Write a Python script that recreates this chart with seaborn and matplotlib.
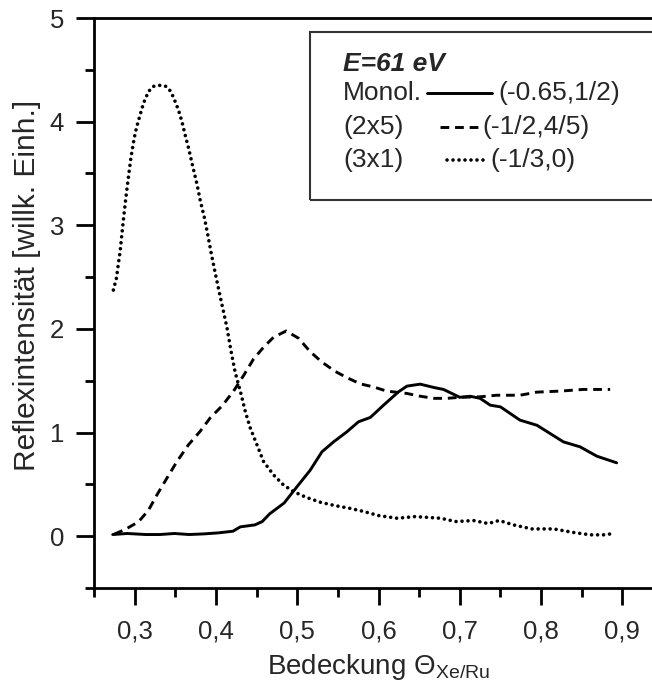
import numpy as np
import pandas as pd
import seaborn as sns
import matplotlib.pyplot as plt
from matplotlib.lines import Line2D
from matplotlib.patches import Rectangle
from matplotlib.ticker import MultipleLocator, FuncFormatter

# Monolage (-0.65,1/2)
mono_x = [0.273, 0.291, 0.3135, 0.331, 0.349, 0.367, 0.385, 0.403, 0.421, 0.430,
          0.448, 0.457, 0.466, 0.4839, 0.4996, 0.516, 0.5304, 0.5447, 0.5611, 0.5754,
          0.590, 0.6062, 0.6246, 0.635, 0.6513, 0.668, 0.68, 0.70, 0.713, 0.725,
          0.7375, 0.75, 0.774, 0.795, 0.8275, 0.848, 0.8686, 0.893]
mono_y = [0.016, 0.026, 0.016, 0.016, 0.026, 0.016, 0.022, 0.032, 0.048, 0.09,
          0.109, 0.141, 0.215, 0.32, 0.476, 0.637, 0.814, 0.91, 1.007, 1.104,
          1.146, 1.264, 1.393, 1.448, 1.467, 1.435, 1.416, 1.34, 1.35, 1.33,
          1.264, 1.248, 1.12, 1.07, 0.91, 0.862, 0.772, 0.708]

# (2x5) (-1/2,4/5)
p25_x = [0.275, 0.2884, 0.3048, 0.317, 0.3274, 0.3397, 0.352, 0.3663, 0.3807, 0.393,
         0.4074, 0.4217, 0.434, 0.4463, 0.4585, 0.4709, 0.4865, 0.5016, 0.516, 0.5304,
         0.5467, 0.5611, 0.5775, 0.5939, 0.610, 0.635, 0.651, 0.668, 0.684, 0.70,
         0.725, 0.7456, 0.774, 0.795, 0.8235, 0.852, 0.885]
p25_y = [0.02, 0.065, 0.139, 0.25, 0.398, 0.56, 0.72, 0.883, 1.013, 1.142,
         1.256, 1.40, 1.55, 1.71, 1.822, 1.92, 1.98, 1.91, 1.78, 1.68,
         1.59, 1.53, 1.47, 1.44, 1.40, 1.377, 1.351, 1.33, 1.33, 1.34,
         1.345, 1.36, 1.36, 1.39, 1.40, 1.416, 1.416]

# (3x1) (-1/3,0)
p31_x = [0.2738, 0.2776, 0.2795, 0.2823, 0.2844, 0.2864, 0.2888, 0.2913, 0.2934, 0.2954,
         0.2979, 0.3007, 0.3036, 0.3069, 0.311, 0.317, 0.323, 0.3306, 0.3389, 0.3446,
         0.349, 0.354, 0.3582, 0.3622, 0.3668, 0.3717, 0.3766, 0.3807, 0.3856, 0.3897,
         0.3942, 0.3991, 0.4053, 0.4135, 0.4185, 0.4237, 0.43, 0.436, 0.4422, 0.4504,
         0.4586, 0.4709, 0.483, 0.4955, 0.511, 0.5287, 0.5466, 0.5646, 0.5825, 0.600,
         0.6229, 0.645, 0.663, 0.6767, 0.6946, 0.717, 0.735, 0.7484, 0.766, 0.7888,
         0.8157, 0.838, 0.8605, 0.8785, 0.891]
p31_y = [2.375, 2.49, 2.60, 2.76, 2.92, 3.07, 3.24, 3.40, 3.53, 3.65,
         3.77, 3.89, 3.98, 4.07, 4.18, 4.29, 4.34, 4.35, 4.34, 4.29,
         4.21, 4.11, 4.00, 3.87, 3.73, 3.56, 3.40, 3.24, 3.08, 2.92,
         2.73, 2.54, 2.31, 2.016, 1.79, 1.58, 1.40, 1.207, 1.045, 0.883,
         0.72, 0.591, 0.495, 0.43, 0.375, 0.327, 0.295, 0.269, 0.237, 0.199,
         0.173, 0.189, 0.18, 0.173, 0.141, 0.151, 0.122, 0.151, 0.109, 0.07,
         0.07, 0.038, 0.013, 0.013, 0.029]

legend_title = "E=61 eV"
phase_names = ["Monol.", "(2x5)", "(3x1)"]
spot_names = ["(-0.65,1/2)", "(-1/2,4/5)", "(-1/3,0)"]

sns.set_style("ticks")
plt.rcParams["font.family"] = ["Liberation Sans", "DejaVu Sans"]
plt.rcParams["mathtext.fontset"] = "custom"
plt.rcParams["mathtext.rm"] = "Liberation Sans"
plt.rcParams["mathtext.it"] = "Liberation Sans:italic"

fs = 18.5
fs_leg = 19
fig = plt.figure(figsize=(6.52, 6.96), dpi=100)
ax = fig.add_axes([94 / 652, 108 / 696, 569 / 652, 570 / 696])

lw = 2.1
solid = dict(linestyle="-")
dashed = dict(linestyle=(0, (3, 2)))
dotted = dict(linestyle=(0, (0.01, 1.65)), dash_capstyle="round", lw=2.6)

sns.lineplot(x=mono_x, y=mono_y, ax=ax, color="black", lw=lw, **solid)
sns.lineplot(x=p25_x, y=p25_y, ax=ax, color="black", lw=lw, **dashed)
sns.lineplot(x=p31_x, y=p31_y, ax=ax, color="black", **dotted)

ax.set_xlim(0.25, 0.95)
ax.set_ylim(-0.5, 5)
ax.xaxis.set_minor_locator(MultipleLocator(0.05))
ax.yaxis.set_minor_locator(MultipleLocator(0.5))
ax.set_xticks([0.3, 0.4, 0.5, 0.6, 0.7, 0.8, 0.9])
ax.set_yticks([0, 1, 2, 3, 4, 5])
ax.xaxis.set_major_formatter(FuncFormatter(lambda v, p: f"{v:.1f}".replace(".", ",")))
ax.yaxis.set_major_formatter(FuncFormatter(lambda v, p: f"{v:.0f}"))

ax.tick_params(which="both", direction="out", width=2, color="black")
ax.tick_params(which="major", labelsize=fs)
ax.tick_params(axis="x", which="major", length=12.5, pad=10)
ax.tick_params(axis="y", which="major", length=13, pad=8.5)
ax.tick_params(which="minor", length=6.5)
for side in ["left", "bottom", "top", "right"]:
    ax.spines[side].set_linewidth(2)
    ax.spines[side].set_color("black")

ax.set_xlabel(r"Bedeckung $\mathrm{\Theta}_{\mathrm{Xe/Ru}}$", fontsize=20, labelpad=6)
ax.set_ylabel("Reflexintensität [willk. Einh.]", fontsize=21.5, labelpad=6)
ax.yaxis.label.set_y(0.53)

# legend box, drawn by hand to match the original layout
ax.add_patch(Rectangle((0.3796, 0.6807), 0.64, 0.2947, transform=ax.transAxes,
                       fill=False, lw=1.5, edgecolor="#333333", clip_on=False))
tx = 0.4376
rows = [0.8684, 0.8088, 0.7509]
ax.text(tx, 0.9193, legend_title, transform=ax.transAxes, fontsize=fs_leg,
        fontweight="bold", fontstyle="italic", va="center")
styles = [dict(solid, lw=lw), dict(dashed, lw=lw), dotted]
seg = [(0.5852, 0.6995), (0.6081, 0.6784), (0.6204, 0.6837)]
lab_x = [0.710, 0.6819, 0.696]
for yy, name, spot, st, (a, b), lx in zip(rows, phase_names, spot_names, styles, seg, lab_x):
    ax.text(tx, yy, name, transform=ax.transAxes, fontsize=fs_leg, va="center")
    ax.add_line(Line2D([a, b], [yy, yy], transform=ax.transAxes, color="black", **st))
    ax.text(lx, yy, spot, transform=ax.transAxes, fontsize=fs_leg, va="center")

fig.savefig("out.png", dpi=100)
